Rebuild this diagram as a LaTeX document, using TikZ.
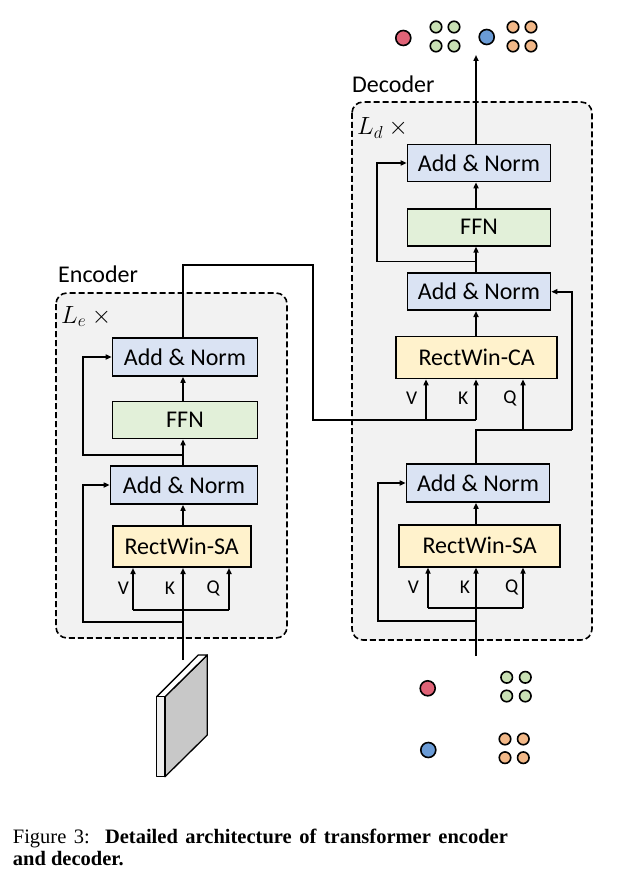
\documentclass[tikz,border=0pt]{standalone}
\usepackage{fontspec}
\setmainfont{Carlito}
\newfontfamily\capfont{Liberation Serif}
\usetikzlibrary{arrows.meta}
\definecolor{anblue}{HTML}{DAE3F3}
\definecolor{ffngreen}{HTML}{E2F0D9}
\definecolor{attyellow}{HTML}{FFF2CC}
\definecolor{bggray}{HTML}{F2F2F2}
\definecolor{cred}{HTML}{E06377}
\definecolor{cgreen}{HTML}{C9E0B4}
\definecolor{cblue}{HTML}{6A9BD6}
\definecolor{corange}{HTML}{F2B888}
\definecolor{platefront}{HTML}{F0F0F0}
\definecolor{plateside}{HTML}{C8C8C8}
\begin{document}
\begin{tikzpicture}[x=1pt,y=-1pt,
  blk/.style={draw=black, line width=1.6pt, minimum height=38pt, inner sep=0pt,
              font=\fontsize{24}{28}\selectfont},
  an/.style={blk, fill=anblue, minimum width=145pt},
  ffn/.style={blk, fill=ffngreen, minimum width=145pt, minimum height=37pt},
  att/.style={blk, fill=attyellow, minimum height=42pt},
  arr/.style={line width=1.6pt, -{Triangle[length=6pt,width=5pt]}},
  ln/.style={line width=1.6pt},
  frame/.style={draw=black, dash pattern=on 6pt off 3pt, line width=1.6pt, fill=bggray, rounded corners=11pt},
  lbl/.style={inner sep=0pt, font=\fontsize{19.5}{22}\selectfont},
  ttl/.style={inner sep=0pt, anchor=base west, font=\fontsize{24}{28}\selectfont},
  rep/.style={inner sep=0pt, anchor=base west, font=\fontsize{25}{28}\selectfont},
  dotbig/.style={draw=black, line width=1.6pt, minimum size=15pt, circle, inner sep=0pt},
  dotsmall/.style={draw=black, line width=1.6pt, minimum size=11.5pt, circle, inner sep=0pt},
  plate/.style={draw=black, line width=1.3pt, line join=round},
]
\useasboundingbox (0,0) rectangle (642,882);

% ---------- frames ----------
\draw[frame] (56,293) rectangle (287,638);
\draw[frame] (352,102) rectangle (592,640);
\node[ttl] (enctitle) at (58,282) {Encoder};
\node[ttl] (dectitle) at (352,93) {Decoder};
\node[rep] (encrep) at (61,323) {$L_{e}$ $\times$};
\node[rep] (decrep) at (357,135) {$L_{d}$ $\times$};

% ---------- encoder blocks ----------
\node[an]  (encAN2) at (185,357) {Add \& Norm};
\node[ffn] (encFFN) at (185,420) {FFN};
\node[an, minimum width=147pt] (encAN1) at (184,485) {Add \& Norm};
\node[att, minimum width=138pt, minimum height=41pt] (encSA) at (181.7,546.7) {RectWin-SA};

\coordinate (eIn) at (183,660);
\coordinate (eV) at (133,610);
\coordinate (eQ) at (229,610);
\coordinate (eS1) at (183,622);
\coordinate (eS1L) at (83,622);
\coordinate (eS2) at (183,455);
\coordinate (eS2L) at (83,455);
\coordinate (eOut1) at (183,265);
\coordinate (eOut2) at (313,265);
\coordinate (eOut3) at (313,420);

\node[lbl] (eVl) at (123.3,588) {V};
\node[lbl] (eKl) at (170,588) {K};
\node[lbl] (eQl) at (213.3,588) {Q};

\draw[arr] (eIn) -- (eIn |- encSA.south);
\draw[ln] (eV) -- (eQ);
\draw[arr] (eV) -- (eV |- encSA.south);
\draw[arr] (eQ) -- (eQ |- encSA.south);
\draw[arr] (eS1) -- (eS1L) |- (encAN1.west);
\draw[arr] (encSA.north -| eIn) -- (encAN1.south -| eIn);
\draw[arr] (encAN1.north -| eIn) -- (encFFN.south -| eIn);
\draw[arr] (eS2) -- (eS2L) |- (encAN2.west);
\draw[arr] (encFFN.north -| eIn) -- (encAN2.south -| eIn);

% ---------- decoder blocks ----------
\node[an, minimum width=143pt, minimum height=37pt] (decAN3) at (479,163) {Add \& Norm};
\node[ffn, minimum width=143pt] (decFFN) at (479,227.3) {FFN};
\node[an, minimum width=143pt, minimum height=37pt] (decAN2) at (479,291.7) {Add \& Norm};
\node[att, minimum width=161pt] (decCA) at (476.7,357.5) {RectWin-CA};
\node[an, minimum width=143pt] (decAN1) at (478,483) {Add \& Norm};
\node[att, minimum width=161pt] (decSA) at (479.7,545.8) {RectWin-SA};

\coordinate (dIn) at (476,656);
\coordinate (dV) at (428,608);
\coordinate (dQ) at (523,608);
\coordinate (dS1) at (476,621);
\coordinate (dS1L) at (378,621);
\coordinate (dM) at (476,430);
\coordinate (dMR) at (571.7,430);
\coordinate (dCQ) at (523,430);
\coordinate (dCV) at (426,420);
\coordinate (dCK) at (476,420);
\coordinate (dS2) at (476,261.7);
\coordinate (dS2L) at (377,261.7);
\coordinate (dOut) at (476,55);

\node[lbl] (dVl) at (413.3,587) {V};
\node[lbl] (dKl) at (465,587) {K};
\node[lbl] (dQl) at (511.7,587) {Q};
\node[lbl] (cVl) at (411.7,398.3) {V};
\node[lbl] (cKl) at (463.3,398.3) {K};
\node[lbl] (cQl) at (510,398.3) {Q};

\draw[arr] (dIn) -- (dIn |- decSA.south);
\draw[ln] (dV) -- (dQ);
\draw[arr] (dV) -- (dV |- decSA.south);
\draw[arr] (dQ) -- (dQ |- decSA.south);
\draw[arr] (dS1) -- (dS1L) |- (decAN1.west);
\draw[arr] (decSA.north -| dIn) -- (decAN1.south -| dIn);
\draw[ln] (decAN1.north -| dIn) -- (dM) -- (dMR);
\draw[arr] (dMR) |- (decAN2.east);
\draw[arr] (dCQ) -- (dCQ |- decCA.south);
\draw[arr] (decCA.north -| dIn) -- (decAN2.south -| dIn);
\draw[arr] (decAN2.north -| dIn) -- (decFFN.south -| dIn);
\draw[arr] (dS2) -- (dS2L) |- (decAN3.west);
\draw[arr] (decFFN.north -| dIn) -- (decAN3.south -| dIn);
\draw[arr] (decAN3.north -| dIn) -- (dOut);

% ---------- encoder -> decoder cross attention ----------
\draw[ln] (encAN2.north -| eIn) -- (eOut1) -- (eOut2) -- (eOut3) -- (dCK);
\draw[arr] (dCK) -- (dCK |- decCA.south);
\draw[arr] (dCV) -- (dCV |- decCA.south);

% ---------- output queries ----------
\node[dotbig, fill=cred] (oR) at (403.3,38) {};
\node[dotsmall, fill=cgreen] (oG1) at (436,27) {};
\node[dotsmall, fill=cgreen] (oG2) at (454,27) {};
\node[dotsmall, fill=cgreen] (oG3) at (436,46) {};
\node[dotsmall, fill=cgreen] (oG4) at (454,46) {};
\node[dotbig, fill=cblue] (oB) at (486.7,37) {};
\node[dotsmall, fill=corange] (oO1) at (513,27) {};
\node[dotsmall, fill=corange] (oO2) at (531,27) {};
\node[dotsmall, fill=corange] (oO3) at (513,46) {};
\node[dotsmall, fill=corange] (oO4) at (531,46) {};

% ---------- input queries ----------
\node[dotbig, fill=cred] (iR) at (427.7,688.3) {};
\node[dotsmall, fill=cgreen] (iG1) at (506.7,677.3) {};
\node[dotsmall, fill=cgreen] (iG2) at (525.3,677.3) {};
\node[dotsmall, fill=cgreen] (iG3) at (506.7,696) {};
\node[dotsmall, fill=cgreen] (iG4) at (525.3,696) {};
\node[dotbig, fill=cblue] (iB) at (428.3,750) {};
\node[dotsmall, fill=corange] (iO1) at (505,739) {};
\node[dotsmall, fill=corange] (iO2) at (523.3,739) {};
\node[dotsmall, fill=corange] (iO3) at (505,757.7) {};
\node[dotsmall, fill=corange] (iO4) at (523.3,757.7) {};

% ---------- feature plate ----------
\draw[plate, fill=plateside] (165,696.7) -- (207.3,655) -- (207.3,735) -- (165,776.7) -- cycle;
\draw[plate, fill=white] (156.7,696.7) -- (198.3,655) -- (207.3,655) -- (165,696.7) -- cycle;
\draw[plate, fill=platefront] (156.7,696.7) rectangle (165,776.7);

% ---------- caption ----------
\node[inner sep=0pt, anchor=base west, font=\capfont\fontsize{20.5}{22}\selectfont] (cap1) at (12.7,843)
  {\makebox[495pt][s]{Figure 3:\ \ \textbf{Detailed architecture of transformer encoder}}};
\node[inner sep=0pt, anchor=base west, font=\capfont\fontsize{20.5}{22}\selectfont] (cap2) at (12.7,865)
  {\textbf{and decoder.}};
\end{tikzpicture}
\end{document}
